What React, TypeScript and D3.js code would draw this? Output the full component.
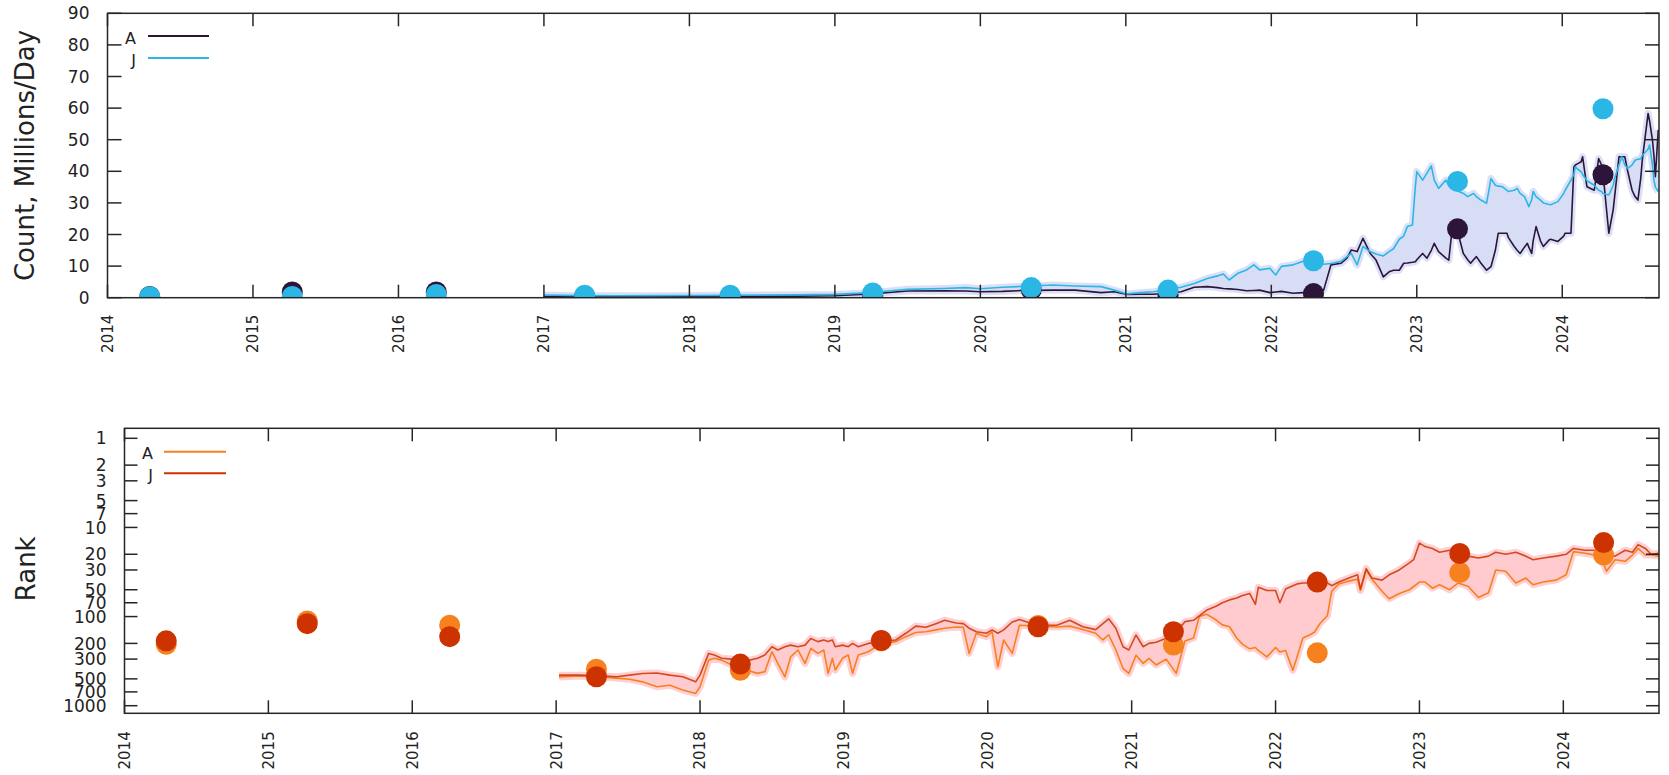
import React from 'react';
import * as d3 from 'd3';

// ---------- DATA ----------
const yearTicks = [2014, 2015, 2016, 2017, 2018, 2019, 2020, 2021, 2022, 2023, 2024];
const X_START = 2014;
const X_END = 2024.665;

const countTicks = [0, 10, 20, 30, 40, 50, 60, 70, 80, 90];
const rankTicks = [1, 2, 3, 5, 7, 10, 20, 30, 50, 70, 100, 200, 300, 500, 700, 1000];

// yearly survey points
const markerDates = [2014.29, 2015.27, 2016.26, 2017.28, 2018.28, 2019.26, 2020.35, 2021.29, 2022.29, 2023.28, 2024.28];
const countMarkA = [0.4, 1.8, 1.8, 0.3, 0.3, 0.8, 2.5, 0.9, 1.3, 21.8, 38.9];
const countMarkJ = [0.3, 0.4, 1.0, 0.8, 0.8, 1.5, 3.2, 2.4, 11.7, 36.8, 59.8];
const rankMarkA = [205, 112, 125, 390, 400, 187, 126, 209, 255, 32, 20.4];
const rankMarkJ = [187, 120, 168, 473, 341, 185, 130, 148, 41, 19.6, 14.8];

// weekly-ish series: Count, Millions/Day
const countDates = [
  2017.0, 2017.25, 2017.5, 2017.75, 2018.0, 2018.25, 2018.5, 2018.75, 2019.0, 2019.25,
  2019.5, 2019.75, 2019.9, 2020.0, 2020.15, 2020.3, 2020.5, 2020.65, 2020.83, 2020.92,
  2021.01, 2021.1, 2021.19, 2021.3, 2021.38, 2021.47, 2021.56, 2021.63, 2021.67, 2021.71,
  2021.77, 2021.83, 2021.88, 2021.92, 2021.99, 2022.03, 2022.07, 2022.15, 2022.22, 2022.3,
  2022.36, 2022.41, 2022.48, 2022.52, 2022.55, 2022.59, 2022.63, 2022.68, 2022.72, 2022.77,
  2022.81, 2022.84, 2022.88, 2022.91, 2022.935, 2022.97, 2022.99, 2023.0, 2023.04, 2023.07,
  2023.1, 2023.12, 2023.15, 2023.2, 2023.22, 2023.24, 2023.29, 2023.32, 2023.35, 2023.37,
  2023.39, 2023.41, 2023.44, 2023.48, 2023.51, 2023.54, 2023.56, 2023.59, 2023.62, 2023.63,
  2023.67, 2023.69, 2023.71, 2023.74, 2023.76, 2023.77, 2023.79, 2023.8, 2023.82, 2023.85,
  2023.87, 2023.91, 2023.92, 2023.97, 2024.01, 2024.02, 2024.06, 2024.08, 2024.09, 2024.11,
  2024.13, 2024.14, 2024.16, 2024.17, 2024.22, 2024.25, 2024.27, 2024.28, 2024.32, 2024.35,
  2024.36, 2024.39, 2024.41, 2024.43, 2024.45, 2024.48, 2024.5, 2024.52, 2024.54, 2024.55,
  2024.59, 2024.6, 2024.62, 2024.63, 2024.64, 2024.66,
];
const countA = [
  0.4, 0.35, 0.35, 0.35, 0.4, 0.4, 0.45, 0.5, 0.6, 1.2,
  2.1, 2.2, 2.1, 1.9, 2.0, 2.3, 2.4, 2.4, 1.6, 1.9,
  1.0, 1.1, 1.1, 1.5, 1.9, 3.3, 3.5, 3.2, 2.9, 2.8,
  2.6, 2.2, 2.3, 2.4, 1.6, 1.8, 2.0, 1.4, 1.6, 1.8,
  2.4, 10.4, 10.9, 12.5, 15.1, 14.6, 18.8, 14.0, 11.9, 6.6,
  8.2, 8.7, 8.7, 10.9, 11.0, 11.2, 11.4, 12.0, 14.0, 12.5,
  15.0, 17.2, 14.6, 12.5, 11.9, 20.4, 19.3, 14.0, 12.0, 10.9,
  12.0, 13.0, 11.0, 8.7, 9.8, 15.0, 20.4, 20.4, 20.4, 19.0,
  16.2, 15.0, 14.0, 16.0, 17.2, 16.0, 14.0, 18.0, 22.5, 18.0,
  16.2, 18.3, 18.5, 17.8, 19.5, 20.4, 20.4, 41.4, 42.0, 42.5,
  43.0, 44.6, 38.0, 35.1, 34.0, 44.0, 42.0, 39.4, 20.4, 27.8,
  32.0, 44.6, 44.6, 44.6, 40.0, 34.0, 32.0, 30.9, 38.0, 43.5,
  58.3, 56.0, 49.9, 45.0, 38.3, 53.1,
];
const countJ = [
  0.85, 0.65, 0.6, 0.65, 0.7, 0.75, 0.85, 0.9, 1.05, 1.6,
  2.65, 2.9, 3.2, 2.85, 3.3, 3.6, 4.0, 3.7, 3.5, 2.4,
  1.2, 1.6, 1.9, 2.6, 3.3, 4.5, 6.1, 6.9, 7.5, 5.6,
  7.7, 8.8, 10.4, 8.8, 9.3, 7.2, 9.9, 10.4, 11.5, 11.0,
  10.6, 10.8, 11.5, 13.0, 14.0, 10.4, 16.2, 14.6, 13.8, 13.2,
  14.6, 15.5, 18.5, 19.5, 22.5, 23.0, 35.1, 39.9, 37.2, 39.4,
  41.7, 37.2, 34.6, 37.2, 35.5, 34.6, 33.6, 33.0, 32.0, 32.5,
  33.0, 32.0, 30.9, 29.9, 37.7, 35.6, 35.3, 35.1, 34.0, 33.6,
  34.0, 34.6, 33.0, 32.0, 30.0, 28.8, 31.0, 33.6, 32.0, 30.9,
  30.0, 29.5, 29.4, 30.4, 33.0, 34.0, 37.2, 39.0, 41.4, 40.5,
  39.9, 39.0, 37.7, 37.0, 35.6, 34.0, 33.6, 33.0, 32.5, 35.5,
  37.7, 42.0, 44.6, 42.0, 40.9, 42.0, 43.5, 43.8, 44.0, 45.0,
  47.0, 48.3, 42.0, 37.2, 35.0, 33.6,
];

// Rank series
const rankDates = [
  2017.02, 2017.16, 2017.28, 2017.42, 2017.51, 2017.6, 2017.7, 2017.79, 2017.88, 2017.97,
  2018.0, 2018.06, 2018.1, 2018.15, 2018.22, 2018.3, 2018.4, 2018.45, 2018.5, 2018.54,
  2018.59, 2018.63, 2018.68, 2018.73, 2018.77, 2018.82, 2018.86, 2018.89, 2018.92, 2018.94,
  2018.99, 2019.03, 2019.06, 2019.1, 2019.17, 2019.26, 2019.36, 2019.43, 2019.5, 2019.57,
  2019.64, 2019.7, 2019.78, 2019.83, 2019.87, 2019.92, 2019.99, 2020.03, 2020.07, 2020.11,
  2020.17, 2020.22, 2020.34, 2020.48, 2020.57, 2020.66, 2020.75, 2020.8, 2020.84, 2020.89,
  2020.94, 2020.98, 2021.03, 2021.08, 2021.12, 2021.17, 2021.24, 2021.31, 2021.37, 2021.43,
  2021.47, 2021.52, 2021.59, 2021.63, 2021.68, 2021.73, 2021.77, 2021.82, 2021.86, 2021.88,
  2021.94, 2022.0, 2022.03, 2022.07, 2022.12, 2022.15, 2022.19, 2022.24, 2022.27, 2022.31,
  2022.36, 2022.39, 2022.44, 2022.51, 2022.57, 2022.59, 2022.63, 2022.67, 2022.74, 2022.79,
  2022.86, 2022.93, 2022.96, 2023.0, 2023.04, 2023.09, 2023.14, 2023.21, 2023.27, 2023.34,
  2023.41, 2023.48, 2023.53, 2023.6, 2023.67, 2023.74, 2023.79, 2023.86, 2023.95, 2024.02,
  2024.07, 2024.15, 2024.26, 2024.3, 2024.36, 2024.43, 2024.48, 2024.52, 2024.57, 2024.61,
  2024.665,
];
const rankA = [
  475, 465, 470, 490, 505, 540, 613, 590, 668, 728,
  613, 308, 294, 308, 350, 390, 434, 416, 248, 335,
  474, 283, 237, 335, 228, 259, 237, 434, 294, 398,
  294, 270, 434, 270, 248, 200, 191, 168, 151, 148,
  141, 135, 131, 132, 259, 154, 168, 148, 366, 183,
  259, 125, 128, 131, 128, 140, 154, 183, 160, 237,
  382, 434, 272, 335, 294, 349, 300, 434, 188, 174,
  100, 94, 110, 124, 130, 174, 204, 230, 222, 240,
  283, 222, 250, 240, 400, 283, 174, 160, 150, 119,
  98, 52, 43, 40, 38, 51, 30, 38, 52, 63,
  55, 50, 46, 41, 41, 48, 44, 50, 42, 46,
  61, 54, 30, 31, 42, 37, 44, 41, 39, 34,
  18.7, 19.5, 21, 31, 23, 24, 20.4, 17.2, 20.4, 20.4,
  21,
];
const rankJ = [
  454, 454, 460, 474, 454, 436, 430, 454, 474, 540,
  454, 259, 270, 294, 300, 320, 294, 270, 218, 237,
  218, 209, 218, 209, 176, 191, 183, 191, 183, 218,
  209, 218, 200, 218, 200, 190, 183, 154, 128, 132,
  120, 110, 118, 120, 135, 148, 154, 141, 154, 141,
  115, 108, 125, 125, 110, 130, 140, 120, 106, 135,
  218, 237, 161, 218, 200, 194, 175, 150, 114, 110,
  98, 85, 76, 70, 65, 62, 58, 55, 73, 47,
  51, 51, 70, 49, 45, 43, 42, 42, 43, 45,
  42, 45, 41, 37, 34, 49, 29, 37, 39, 34,
  30, 25, 23, 15, 16.4, 17.2, 19, 18, 20, 21,
  22, 21, 19, 20, 19, 21, 23, 22, 21, 20,
  17.2, 18, 18, 20, 21, 18, 19, 15.6, 17.2, 20,
  19.5,
];

// ---------- STYLE ----------
const FONT = 'DejaVu Sans';
const AXIS = '#262626';
const C_A_TOP = '#2c1538';
const C_J_TOP = '#2bb7e6';
const FILL_TOP = '#d8ddf6';
const C_A_BOT = '#f7801f';
const C_J_BOT = '#cc3300';
const FILL_BOT = '#ffcbce';

type Pt = { t: number; a: number; j: number };

export default function App() {
  const W = 1669;
  const H = 775;

  // Top panel geometry
  const T = { left: 107.5, right: 1659, top: 13.3, bottom: 297.7 };
  // Bottom panel geometry
  const B = { left: 124.5, right: 1659, top: 428.3, bottom: 713.3 };

  const xTop = d3.scaleLinear().domain([X_START, X_END]).range([T.left, T.right]);
  const yTop = d3.scaleLinear().domain([0, 90]).range([T.bottom, T.top]);
  const xBot = d3.scaleLinear().domain([X_START, X_END]).range([B.left, B.right]);
  const yBot = d3.scaleLog().domain([0.7723, 1216.8]).range([B.top, B.bottom]);

  const countData: Pt[] = countDates.map((t, i) => ({ t, a: countA[i], j: countJ[i] }));
  const rankData: Pt[] = rankDates.map((t, i) => ({ t, a: rankA[i], j: rankJ[i] }));

  const areaTop = d3.area<Pt>().x(d => xTop(d.t)).y0(d => yTop(d.a)).y1(d => yTop(d.j))(countData) || '';
  const lineTopA = d3.line<Pt>().x(d => xTop(d.t)).y(d => yTop(d.a))(countData) || '';
  const lineTopJ = d3.line<Pt>().x(d => xTop(d.t)).y(d => yTop(d.j))(countData) || '';

  const areaBot = d3.area<Pt>().x(d => xBot(d.t)).y0(d => yBot(d.a)).y1(d => yBot(d.j))(rankData) || '';
  const lineBotA = d3.line<Pt>().x(d => xBot(d.t)).y(d => yBot(d.a))(rankData) || '';
  const lineBotJ = d3.line<Pt>().x(d => xBot(d.t)).y(d => yBot(d.j))(rankData) || '';

  const R = 10.5;

  const frame = (P: typeof T, key: string) => (
    <rect key={key} x={P.left} y={P.top} width={P.right - P.left} height={P.bottom - P.top}
      fill="none" stroke={AXIS} strokeWidth={1.5} />
  );

  return (
    <svg width={W} height={H} style={{ position: 'absolute', left: 0, top: 0, background: '#fff' }}
      fontFamily={FONT}>
      <rect x={0} y={0} width={W} height={H} fill="#fff" />

      {/* ===== TOP PANEL ===== */}
      <defs>
        <clipPath id="clipTop"><rect x={T.left} y={T.top} width={T.right - T.left} height={T.bottom - T.top} /></clipPath>
        <clipPath id="clipBot"><rect x={B.left} y={B.top} width={B.right - B.left} height={B.bottom - B.top} /></clipPath>
      </defs>

      <g clipPath="url(#clipTop)">
        <path d={areaTop} fill={FILL_TOP} />
        <path d={lineTopA} fill="none" stroke={FILL_TOP} strokeWidth={7} strokeLinejoin="round" opacity={0.9} />
        <path d={lineTopJ} fill="none" stroke={FILL_TOP} strokeWidth={7} strokeLinejoin="round" opacity={0.9} />
        <path d={lineTopA} fill="none" stroke={C_A_TOP} strokeWidth={1.6} strokeLinejoin="round" />
        <path d={lineTopJ} fill="none" stroke={C_J_TOP} strokeWidth={1.6} strokeLinejoin="round" />
        {markerDates.map((t, i) => (
          <circle key={'ta' + i} cx={xTop(t)} cy={yTop(countMarkA[i])} r={R} fill={C_A_TOP} />
        ))}
        {markerDates.map((t, i) => (
          <circle key={'tj' + i} cx={xTop(t)} cy={yTop(countMarkJ[i])} r={R} fill={C_J_TOP} />
        ))}
      </g>

      {/* top axes */}
      {frame(T, 'ft')}
      {countTicks.map(v => (
        <g key={'cy' + v}>
          <line x1={T.left} x2={T.left + 14} y1={yTop(v)} y2={yTop(v)} stroke={AXIS} strokeWidth={1.5} />
          <line x1={T.right} x2={T.right - 14} y1={yTop(v)} y2={yTop(v)} stroke={AXIS} strokeWidth={1.5} />
          <text x={T.left - 18} y={yTop(v)} dy="0.36em" textAnchor="end" fontSize={17} fill="#222">{v}</text>
        </g>
      ))}
      {yearTicks.map(y => (
        <g key={'tx' + y}>
          <line x1={xTop(y)} x2={xTop(y)} y1={T.bottom} y2={T.bottom - 13} stroke={AXIS} strokeWidth={1.5} />
          <line x1={xTop(y)} x2={xTop(y)} y1={T.top} y2={T.top + 13} stroke={AXIS} strokeWidth={1.5} />
          <text transform={`translate(${xTop(y)},${T.bottom + 17}) rotate(-90)`} dy="0.36em"
            textAnchor="end" fontSize={15} fill="#222">{y}</text>
        </g>
      ))}
      <text transform={`translate(34,${(T.top + T.bottom) / 2}) rotate(-90)`} textAnchor="middle"
        fontSize={26} fill="#222">Count, Millions/Day</text>

      {/* top legend */}
      <text x={136} y={43.5} textAnchor="end" fontSize={16} fill="#222">A</text>
      <line x1={148} x2={209} y1={36} y2={36} stroke={C_A_TOP} strokeWidth={2} />
      <text x={136} y={65.5} textAnchor="end" fontSize={16} fill="#222">J</text>
      <line x1={148} x2={209} y1={58} y2={58} stroke={C_J_TOP} strokeWidth={2} />

      {/* ===== BOTTOM PANEL ===== */}
      <g clipPath="url(#clipBot)">
        <path d={areaBot} fill={FILL_BOT} />
        <path d={lineBotA} fill="none" stroke={FILL_BOT} strokeWidth={7} strokeLinejoin="round" opacity={0.9} />
        <path d={lineBotJ} fill="none" stroke={FILL_BOT} strokeWidth={7} strokeLinejoin="round" opacity={0.9} />
        <path d={lineBotA} fill="none" stroke={C_A_BOT} strokeWidth={1.6} strokeLinejoin="round" />
        <path d={lineBotJ} fill="none" stroke={C_J_BOT} strokeWidth={1.6} strokeLinejoin="round" opacity={0.85} />
        {markerDates.map((t, i) => (
          <circle key={'ba' + i} cx={xBot(t)} cy={yBot(rankMarkA[i])} r={R} fill={C_A_BOT} />
        ))}
        {markerDates.map((t, i) => (
          <circle key={'bj' + i} cx={xBot(t)} cy={yBot(rankMarkJ[i])} r={R} fill={C_J_BOT} />
        ))}
      </g>

      {frame(B, 'fb')}
      {rankTicks.map(v => (
        <g key={'ry' + v}>
          <line x1={B.left} x2={B.left + 13} y1={yBot(v)} y2={yBot(v)} stroke={AXIS} strokeWidth={1.5} />
          <line x1={B.right} x2={B.right - 13} y1={yBot(v)} y2={yBot(v)} stroke={AXIS} strokeWidth={1.5} />
          <text x={B.left - 18} y={yBot(v)} dy="0.36em" textAnchor="end" fontSize={17} fill="#222">{v}</text>
        </g>
      ))}
      {yearTicks.map(y => (
        <g key={'bx' + y}>
          <line x1={xBot(y)} x2={xBot(y)} y1={B.bottom} y2={B.bottom - 13} stroke={AXIS} strokeWidth={1.5} />
          <line x1={xBot(y)} x2={xBot(y)} y1={B.top} y2={B.top + 13} stroke={AXIS} strokeWidth={1.5} />
          <text transform={`translate(${xBot(y)},${B.bottom + 18}) rotate(-90)`} dy="0.36em"
            textAnchor="end" fontSize={15} fill="#222">{y}</text>
        </g>
      ))}
      <text transform={`translate(35,${(B.top + B.bottom) / 2 - 2}) rotate(-90)`} textAnchor="middle"
        fontSize={26} fill="#222">Rank</text>

      {/* bottom legend */}
      <text x={153} y={459} textAnchor="end" fontSize={16} fill="#222">A</text>
      <line x1={164} x2={226} y1={451.7} y2={451.7} stroke={C_A_BOT} strokeWidth={2} />
      <text x={153} y={481} textAnchor="end" fontSize={16} fill="#222">J</text>
      <line x1={164} x2={226} y1={473.3} y2={473.3} stroke={C_J_BOT} strokeWidth={2} />
    </svg>
  );
}
